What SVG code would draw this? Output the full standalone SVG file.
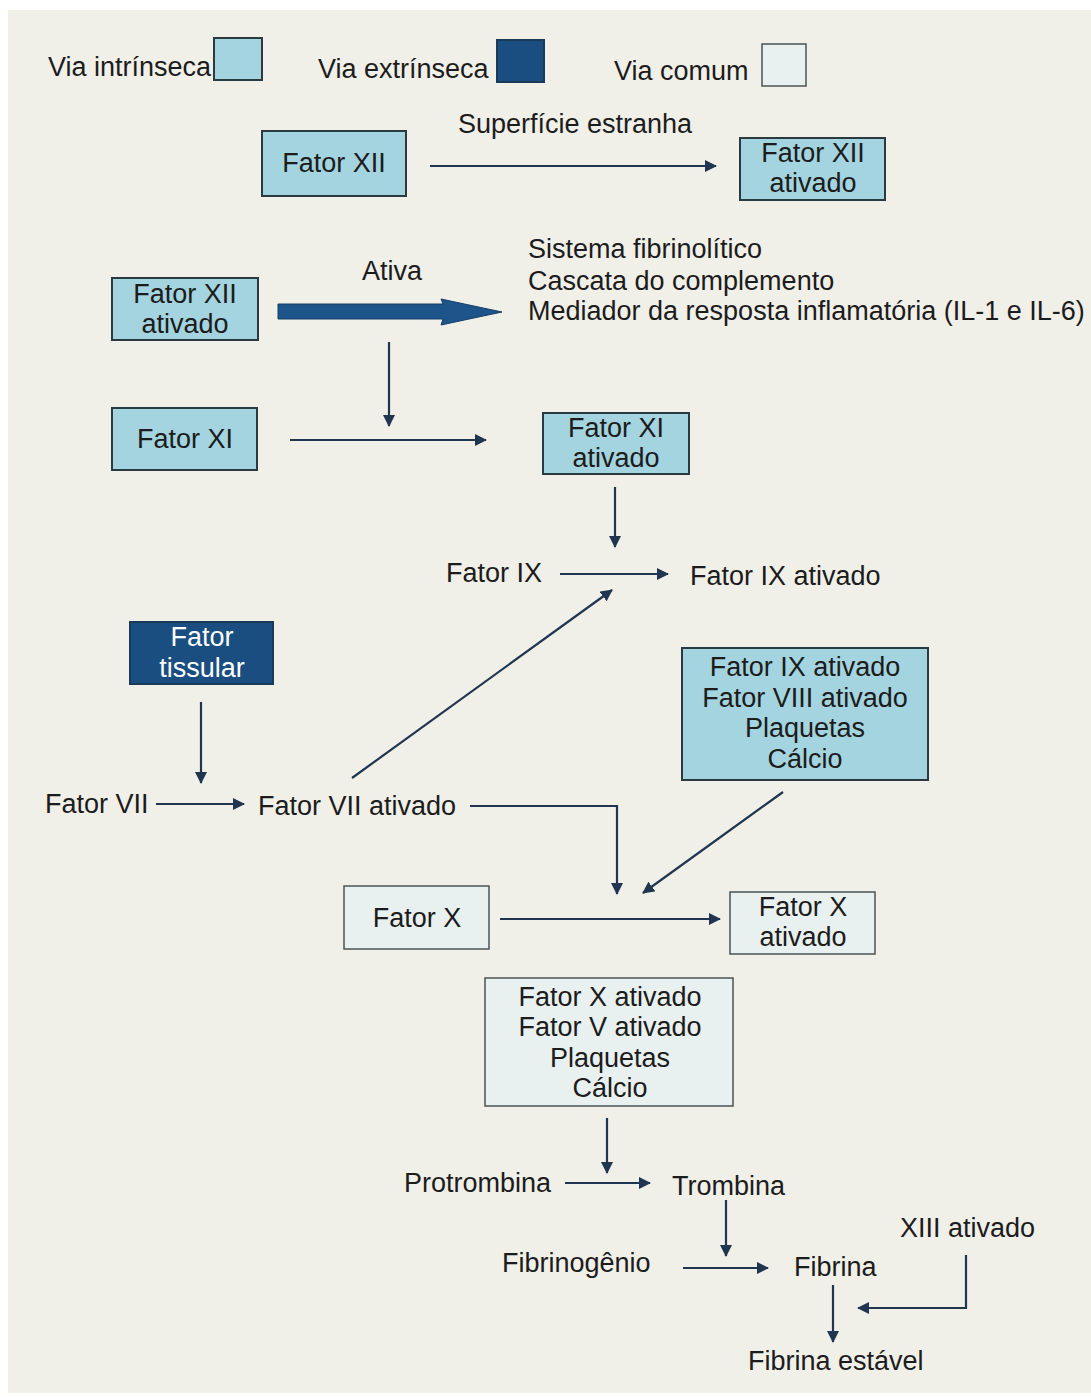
<svg xmlns="http://www.w3.org/2000/svg" width="1091" height="1397" viewBox="0 0 1091 1397">
<defs>
<style>
text{font-family:"Liberation Sans",Arial,sans-serif;font-size:27px;fill:#1c1c1c}
.c{text-anchor:middle}
.intr{fill:#a3d4df;stroke:#2b3a40;stroke-width:2}
.extr{fill:#1b4e80;stroke:#1b3a5a;stroke-width:2}
.com{fill:#e9f0f0;stroke:#4a5458;stroke-width:1.5}
.w{fill:#ffffff}
.ln{fill:none;stroke:#1f3550;stroke-width:2.2}
</style>
<marker id="ah" viewBox="0 0 12 12" refX="11" refY="6" markerWidth="12" markerHeight="12" markerUnits="userSpaceOnUse" orient="auto">
<path d="M0,0 L12,6 L0,12 Z" fill="#1f3550"/>
</marker>
</defs>
<rect x="0" y="0" width="1091" height="1397" fill="#ffffff"/>
<rect x="8" y="10" width="1083" height="1383" fill="#f0efe8"/>

<g id="legend">
<text x="48" y="76">Via intrínseca</text>
<rect class="intr" x="214" y="38" width="48" height="42"/>
<text x="318" y="78">Via extrínseca</text>
<rect class="extr" x="497" y="40" width="47" height="42"/>
<text x="614" y="80">Via comum</text>
<rect class="com" x="762" y="44" width="44" height="42"/>
</g>

<g id="connectors">
<line class="ln" x1="430" y1="166" x2="716" y2="166" marker-end="url(#ah)"/>
<path d="M278,304 L443,304 L441,299 L502,312 L441,325 L443,319 L278,319 Z" fill="#1d558a" stroke="#173f66" stroke-width="1"/>
<line class="ln" x1="389" y1="342" x2="389" y2="426" marker-end="url(#ah)"/>
<line class="ln" x1="290" y1="440" x2="486" y2="440" marker-end="url(#ah)"/>
<line class="ln" x1="615" y1="487" x2="615" y2="547" marker-end="url(#ah)"/>
<line class="ln" x1="560" y1="574" x2="668" y2="574" marker-end="url(#ah)"/>
<line class="ln" x1="352" y1="778" x2="612" y2="590" marker-end="url(#ah)"/>
<line class="ln" x1="201" y1="702" x2="201" y2="783" marker-end="url(#ah)"/>
<line class="ln" x1="156" y1="804" x2="244" y2="804" marker-end="url(#ah)"/>
<path class="ln" d="M470,806 L617,806 L617,894" marker-end="url(#ah)"/>
<line class="ln" x1="783" y1="792" x2="643" y2="893" marker-end="url(#ah)"/>
<line class="ln" x1="500" y1="919" x2="720" y2="919" marker-end="url(#ah)"/>
<line class="ln" x1="607" y1="1118" x2="607" y2="1173" marker-end="url(#ah)"/>
<line class="ln" x1="565" y1="1183" x2="650" y2="1183" marker-end="url(#ah)"/>
<line class="ln" x1="726" y1="1200" x2="726" y2="1256" marker-end="url(#ah)"/>
<line class="ln" x1="683" y1="1268" x2="768" y2="1268" marker-end="url(#ah)"/>
<line class="ln" x1="833" y1="1285" x2="833" y2="1342" marker-end="url(#ah)"/>
<path class="ln" d="M966,1255 L966,1308 L858,1308" marker-end="url(#ah)"/>
</g>

<g id="fator-xii">
<rect class="intr" x="262" y="131" width="144" height="65"/>
<text class="c" x="334" y="172">Fator XII</text>
</g>
<g id="superficie">
<text x="458" y="133">Superfície estranha</text>
</g>
<g id="fator-xii-ativado-1">
<rect class="intr" x="740" y="138" width="145" height="62"/>
<text class="c" x="813" y="162">Fator XII</text>
<text class="c" x="813" y="192">ativado</text>
</g>

<g id="fator-xii-ativado-2">
<rect class="intr" x="112" y="278" width="146" height="62"/>
<text class="c" x="185" y="303">Fator XII</text>
<text class="c" x="185" y="333">ativado</text>
</g>
<g id="ativa">
<text x="362" y="280">Ativa</text>
</g>
<g id="sistemas">
<text x="528" y="258">Sistema fibrinolítico</text>
<text x="528" y="290">Cascata do complemento</text>
<text x="528" y="320">Mediador da resposta inflamatória (IL-1 e IL-6)</text>
</g>

<g id="fator-xi">
<rect class="intr" x="112" y="408" width="145" height="62"/>
<text class="c" x="185" y="448">Fator XI</text>
</g>
<g id="fator-xi-ativado">
<rect class="intr" x="543" y="413" width="146" height="61"/>
<text class="c" x="616" y="437">Fator XI</text>
<text class="c" x="616" y="467">ativado</text>
</g>

<g id="fator-ix">
<text x="446" y="582">Fator IX</text>
</g>
<g id="fator-ix-ativado">
<text x="690" y="585">Fator IX ativado</text>
</g>

<g id="fator-tissular">
<rect class="extr" x="130" y="622" width="143" height="62"/>
<text class="c w" x="202" y="646">Fator</text>
<text class="c w" x="202" y="677">tissular</text>
</g>

<g id="fator-vii">
<text x="45" y="813">Fator VII</text>
</g>
<g id="fator-vii-ativado">
<text x="258" y="815">Fator VII ativado</text>
</g>

<g id="complexo-tenase">
<rect class="intr" x="682" y="648" width="246" height="132"/>
<text class="c" x="805" y="676">Fator IX ativado</text>
<text class="c" x="805" y="707">Fator VIII ativado</text>
<text class="c" x="805" y="737">Plaquetas</text>
<text class="c" x="805" y="768">Cálcio</text>
</g>

<g id="fator-x">
<rect class="com" x="344" y="886" width="145" height="63"/>
<text class="c" x="417" y="927">Fator X</text>
</g>
<g id="fator-x-ativado">
<rect class="com" x="730" y="892" width="145" height="62"/>
<text class="c" x="803" y="916">Fator X</text>
<text class="c" x="803" y="946">ativado</text>
</g>

<g id="complexo-protrombinase">
<rect class="com" x="485" y="978" width="248" height="128"/>
<text class="c" x="610" y="1006">Fator X ativado</text>
<text class="c" x="610" y="1036">Fator V ativado</text>
<text class="c" x="610" y="1067">Plaquetas</text>
<text class="c" x="610" y="1097">Cálcio</text>
</g>

<g id="protrombina">
<text x="404" y="1192">Protrombina</text>
</g>
<g id="trombina">
<text x="672" y="1195">Trombina</text>
</g>
<g id="xiii-ativado">
<text x="900" y="1237">XIII ativado</text>
</g>
<g id="fibrinogenio">
<text x="502" y="1272">Fibrinogênio</text>
</g>
<g id="fibrina">
<text x="794" y="1276">Fibrina</text>
</g>
<g id="fibrina-estavel">
<text x="748" y="1370">Fibrina estável</text>
</g>
</svg>
